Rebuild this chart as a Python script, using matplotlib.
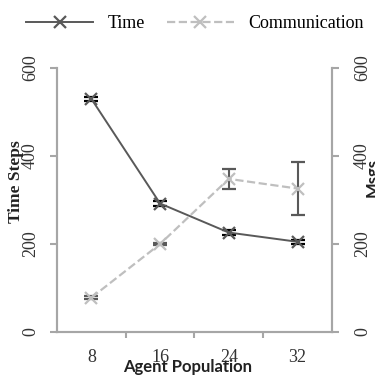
import matplotlib
matplotlib.use("Agg")
import matplotlib.pyplot as plt
from matplotlib.lines import Line2D
import numpy as np

# data
populations = ["8", "16", "24", "32"]
time_steps = [530, 292, 226, 205]
time_err = [5, 5, 5, 5]
msgs = [78, 200, 348, 326]
msgs_err = [3, 3, 23, 60]

serif = "Liberation Serif"
sans = "Lato"
axis_grey = "#a6a6a6"
time_col = "#595959"
msgs_col = "#bfbfbf"

fig = plt.figure(figsize=(3.75, 3.91), dpi=100)
ax = fig.add_axes([0.152, 0.151, 0.733, 0.675])
ax2 = ax.twinx()

x = np.arange(len(populations))

# Communication (right axis)
ax2.errorbar(x, msgs, yerr=msgs_err, color=msgs_col, linestyle="--", linewidth=1.6,
             marker="x", markersize=8, markeredgewidth=1.6,
             ecolor=time_col, elinewidth=1.5, capsize=5, capthick=1.5, zorder=2)

# Time (left axis)
ax.errorbar(x, time_steps, yerr=time_err, color=time_col, linestyle="-", linewidth=1.4,
            marker="x", markersize=8, markeredgewidth=1.6,
            ecolor="black", elinewidth=1.2, capsize=5, capthick=1.5, zorder=3)
ax.set_zorder(ax2.get_zorder() + 1)
ax.patch.set_visible(False)

for a, pad in ((ax, 8), (ax2, 11)):
    a.set_ylim(0, 600)
    a.set_yticks([0, 200, 400, 600])
    a.spines["top"].set_visible(False)
    for s in ("left", "right", "bottom"):
        a.spines[s].set_color(axis_grey)
        a.spines[s].set_linewidth(1.5)
    a.tick_params(axis="y", direction="out", length=5, width=1.5, color=axis_grey,
                  labelsize=13, pad=pad, labelcolor="#333333")
    for lab in a.get_yticklabels():
        lab.set_fontfamily(serif)
        lab.set_rotation(90)
        lab.set_va("center")

ax.set_xlim(-0.5, 3.5)
ax.set_xticks(x)
ax.set_xticklabels(populations, fontfamily=serif, fontsize=13, color="#333333")
ax.set_xticks([0.5, 1.5, 2.5], minor=True)
ax.tick_params(axis="x", which="major", length=0, pad=12)
ax.tick_params(axis="x", which="minor", direction="out", length=4, width=1.5, color=axis_grey)

fig.text(0.5, 0.062, "Agent Population", ha="center", va="center",
         fontfamily=sans, fontweight="bold", fontsize=12, color="#222222")
fig.text(0.042, 0.535, "Time Steps", ha="center", va="center", rotation=90,
         fontfamily=serif, fontweight="bold", fontsize=12.5, color="#222222")
fig.text(0.995, 0.545, "Msgs", ha="center", va="center", rotation=90,
         fontfamily=sans, fontweight="bold", fontsize=12, color="#222222")

handles = [
    Line2D([], [], color=time_col, linestyle="-", linewidth=1.4, marker="x",
           markersize=8, markeredgewidth=1.6),
    Line2D([], [], color=msgs_col, linestyle="--", linewidth=1.6, marker="x",
           markersize=8, markeredgewidth=1.6),
]
fig.legend(handles, ["Time", "Communication"], loc="center", bbox_to_anchor=(0.52, 0.94),
           ncol=2, frameon=False, handlelength=3.7, columnspacing=1.2,
           prop={"family": serif, "size": 13})

fig.savefig("out.png", dpi=100)
